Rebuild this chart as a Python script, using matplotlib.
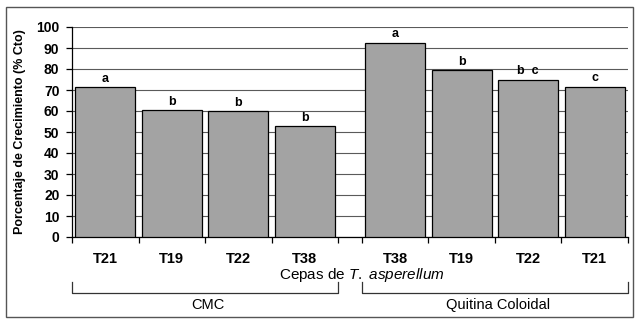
import matplotlib
matplotlib.use('Agg')
import matplotlib.pyplot as plt
import matplotlib.transforms as mtransforms
from matplotlib.patches import Rectangle

plt.rcParams.update({
    'font.family': 'Liberation Sans',
    'mathtext.fontset': 'custom',
    'mathtext.rm': 'Liberation Sans',
    'mathtext.it': 'Liberation Sans:italic',
})

# data
groups = ['CMC', 'Quitina Coloidal']
strains_cmc = ['T21', 'T19', 'T22', 'T38']
strains_qc = ['T38', 'T19', 'T22', 'T21']
vals_cmc = [71.3, 60.3, 59.8, 52.7]
vals_qc = [92.4, 79.4, 74.8, 71.5]
letters_cmc = ['a', 'b', 'b', 'b']
letters_qc = ['a', 'b', 'b  c', 'c']
yticks = list(range(0, 101, 10))

BAR = '#a3a3a3'
GRID = '#5a5a5a'
GAP = 0.36   # empty space between the two groups (slot units)

fig = plt.figure(figsize=(6.37, 3.2), dpi=100)
ax = fig.add_axes([72/637, 1 - 237/320, (628 - 72)/637, (237 - 27)/320])

x_cmc = [i + 0.5 for i in range(len(strains_cmc))]
x_qc = [len(strains_cmc) + GAP + i + 0.5 for i in range(len(strains_qc))]

ax.bar(x_cmc, vals_cmc, width=0.9, color=BAR, edgecolor='black', lw=0.9, zorder=3)
ax.bar(x_qc, vals_qc, width=0.9, color=BAR, edgecolor='black', lw=0.9, zorder=3)

for x, v, t in zip(x_cmc + x_qc, vals_cmc + vals_qc, letters_cmc + letters_qc):
    ax.text(x, v + 1.2, t, ha='center', va='bottom', fontsize=9, fontweight='bold')

right = len(strains_cmc) + GAP + len(strains_qc)
ax.set_xlim(0, right)
ax.set_ylim(0, 100)
ax.set_yticks(yticks)
ax.set_yticklabels([str(t) for t in yticks], fontsize=10, fontweight='bold')
ax.grid(axis='y', color=GRID, lw=0.8, zorder=0)

bounds = [0, 1, 2, 3, 4, 4 + GAP, 5 + GAP, 6 + GAP, 7 + GAP, right]
ax.set_xticks(bounds)
ax.set_xticklabels([])
ax.set_xticks(x_cmc + x_qc, minor=True)
ax.set_xticklabels(strains_cmc + strains_qc, minor=True, fontsize=10.5, fontweight='bold')
ax.tick_params(axis='x', which='major', direction='out', length=4, width=0.9)
ax.tick_params(axis='x', which='minor', length=0, pad=11)
ax.tick_params(axis='y', direction='out', length=4, width=0.9, pad=5)

for s in ['top', 'right']:
    ax.spines[s].set_visible(False)
ax.spines['left'].set_linewidth(0.9)
ax.spines['bottom'].set_linewidth(0.9)

ax.set_ylabel('Porcentaje de Crecimiento (% Cto)', fontsize=9, fontweight='bold')
ax.yaxis.set_label_coords(-0.082, 0.5)

fig.text(362/637, 1 - 275/320, r'Cepas de $\mathit{T.\ asperellum}$',
         ha='center', va='center', fontsize=11)

# group brackets
tr = mtransforms.blended_transform_factory(ax.transData, fig.transFigure)
y_low, y_high = 1 - 293/320, 1 - 282/320
for (x0, x1), name in zip([(0, 4), (4 + GAP, right)], groups):
    ax.plot([x0, x0, x1, x1], [y_high, y_low, y_low, y_high], color='#333333',
            lw=0.9, transform=tr, clip_on=False)
    ax.text((x0 + x1) / 2 + 0.05, 1 - 305/320, name, ha='center', va='center',
            fontsize=10.5, transform=tr)

fig.patches.append(Rectangle((6/637, 1 - 317/320), 627/637, 310/320, fill=False,
                             edgecolor='#555555', lw=1, transform=fig.transFigure))

fig.savefig('out.png', dpi=100)
